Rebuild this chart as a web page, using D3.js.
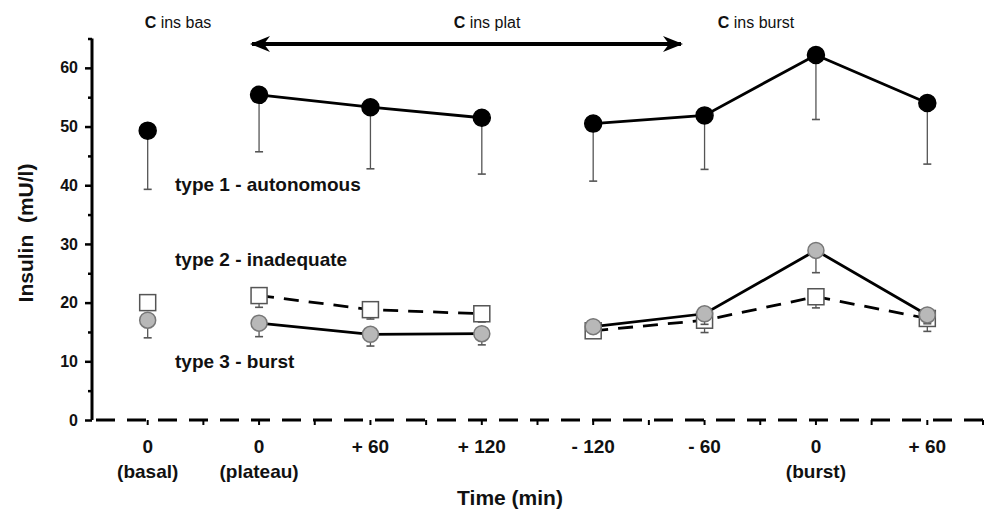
<!DOCTYPE html>
<html>
<head>
<meta charset="utf-8">
<script src="https://cdn.jsdelivr.net/npm/d3@7"></script>
<style>
  body { margin: 0; background: #fff; }
  text { font-family: "Liberation Sans", Arial, sans-serif; fill: #111; }
</style>
</head>
<body>
<svg id="svg" width="987" height="518"></svg>
<script>
// categories on the time axis (two label lines)
var timeLabels = ["0", "0", "+ 60", "+ 120", "- 120", "- 60", "0", "+ 60"];
var phaseLabels = ["(basal)", "(plateau)", "", "", "", "", "(burst)", ""];
// which points are joined by a line (basal stands alone)
var segment = [0, 1, 1, 1, 2, 2, 2, 2];

// type 1 - autonomous (filled black circles)
var type1 = [49.3, 55.4, 53.3, 51.5, 50.5, 51.9, 62.2, 54.0];
var type1Err = [10.0, 9.7, 10.5, 9.6, 9.8, 9.2, 11.0, 10.4];
// type 2 - inadequate (open squares, dashed)
var type2 = [20.0, 21.2, 18.8, 18.1, 15.2, 17.0, 21.0, 17.3];
var type2Err = [1.3, 2.0, 1.6, 1.4, 0.8, 2.1, 1.9, 2.2];
// type 3 - burst (grey circles)
var type3 = [17.0, 16.5, 14.6, 14.7, 15.9, 18.1, 28.9, 17.9];
var type3Err = [3.0, 2.3, 2.0, 1.9, 0.9, 1.8, 3.8, 1.5];

var yTicks = [0, 10, 20, 30, 40, 50, 60];

var svg = d3.select("svg");

var x = d3.scaleLinear().domain([-0.5, 7.5]).range([92, 983]);
var y = d3.scaleLinear().domain([0, 65]).range([420, 38.5]);

// ---- y axis ----
var yAxis = d3.axisLeft(y)
  .tickValues(d3.range(0, 66, 5))
  .tickSize(6)
  .tickFormat(function(d) { return yTicks.indexOf(d) >= 0 ? d : ""; });

var gy = svg.append("g").attr("transform", "translate(" + x(-0.5) + ",0)").call(yAxis);
gy.select(".domain").attr("stroke", "#000").attr("stroke-width", 3).attr("d", "M0," + y(65) + "V" + y(0));
gy.selectAll(".tick line").attr("stroke", "#000").attr("stroke-width", 2.5)
  .attr("x2", function(d) { return yTicks.indexOf(d) >= 0 ? -7 : -4; });
gy.selectAll(".tick text").attr("x", -14).attr("font-size", 16).attr("font-weight", "bold")
  .style("font-family", '"Liberation Sans", Arial, sans-serif').attr("fill", "#111");

// ---- x axis: dashed line at zero with small ticks ----
svg.append("line")
  .attr("x1", x(-0.5)).attr("x2", x(7.5))
  .attr("y1", y(0)).attr("y2", y(0))
  .attr("stroke", "#000").attr("stroke-width", 3)
  .attr("stroke-dasharray", "19,12").attr("stroke-dashoffset", -4);

svg.selectAll(".xtick")
  .data(d3.range(0, 16).map(function(i) { return i * 0.5; }))
  .enter().append("line")
  .attr("class", "xtick")
  .attr("x1", function(d) { return x(d); }).attr("x2", function(d) { return x(d); })
  .attr("y1", y(0)).attr("y2", y(0) + 5)
  .attr("stroke", "#000").attr("stroke-width", 2);

svg.selectAll(".tlab")
  .data(timeLabels)
  .enter().append("text")
  .attr("class", "tlab")
  .attr("x", function(d, i) { return x(i); })
  .attr("y", 453)
  .attr("text-anchor", "middle")
  .attr("font-size", 19).attr("font-weight", "bold")
  .text(function(d) { return d; });

svg.selectAll(".plab")
  .data(phaseLabels)
  .enter().append("text")
  .attr("class", "plab")
  .attr("x", function(d, i) { return x(i); })
  .attr("y", 478)
  .attr("text-anchor", "middle")
  .attr("font-size", 19).attr("font-weight", "bold")
  .text(function(d) { return d; });

svg.append("text")
  .attr("x", 510).attr("y", 505)
  .attr("text-anchor", "middle")
  .attr("font-size", 21).attr("font-weight", "bold")
  .text("Time (min)");

svg.append("text")
  .attr("transform", "translate(33,233) rotate(-90)")
  .attr("text-anchor", "middle")
  .attr("font-size", 21).attr("font-weight", "bold")
  .style("white-space", "pre")
  .text("Insulin  (mU/l)");

// ---- phase annotations on top ----
var phases = [
  { label: "ins bas", cx: 178 },
  { label: "ins plat", cx: 487 },
  { label: "ins burst", cx: 756 }
];
phases.forEach(function(p) {
  var t = svg.append("text")
    .attr("x", p.cx).attr("y", 28)
    .attr("text-anchor", "middle")
    .attr("font-size", 16);
  t.append("tspan").attr("font-weight", "bold").text("C ");
  t.append("tspan").text(p.label);
});

// double arrow for the plateau
var defs = svg.append("defs");
defs.append("marker")
  .attr("id", "head")
  .attr("viewBox", "0 0 20 16")
  .attr("refX", 18).attr("refY", 8)
  .attr("markerWidth", 20).attr("markerHeight", 16)
  .attr("markerUnits", "userSpaceOnUse")
  .attr("orient", "auto-start-reverse")
  .append("path")
  .attr("d", "M0,0 L20,8 L0,16 L6,8 Z")
  .attr("fill", "#000");

svg.append("line")
  .attr("x1", 252).attr("x2", 681)
  .attr("y1", 44).attr("y2", 44)
  .attr("stroke", "#000").attr("stroke-width", 4)
  .attr("marker-start", "url(#head)")
  .attr("marker-end", "url(#head)");

// ---- series labels ----
var seriesLabels = [
  { text: "type 1 - autonomous", y: 191 },
  { text: "type 2 - inadequate", y: 266 },
  { text: "type 3 - burst", y: 368 }
];
svg.selectAll(".slab")
  .data(seriesLabels)
  .enter().append("text")
  .attr("x", 175).attr("y", function(d) { return d.y; })
  .attr("font-size", 19).attr("font-weight", "bold")
  .text(function(d) { return d.text; });

// ---- data ----
function drawSeries(vals, errs, opt) {
  var pts = vals.map(function(v, i) { return { i: i, v: v, e: errs[i], seg: segment[i] }; });

  // error bars (downwards only)
  var eb = svg.append("g");
  pts.forEach(function(p) {
    eb.append("line")
      .attr("x1", x(p.i)).attr("x2", x(p.i))
      .attr("y1", y(p.v)).attr("y2", y(p.v - p.e))
      .attr("stroke", "#555").attr("stroke-width", 1.3);
    eb.append("line")
      .attr("x1", x(p.i) - 4).attr("x2", x(p.i) + 4)
      .attr("y1", y(p.v - p.e)).attr("y2", y(p.v - p.e))
      .attr("stroke", "#555").attr("stroke-width", 1.6);
  });

  var line = d3.line().x(function(d) { return x(d.i); }).y(function(d) { return y(d.v); });
  d3.groups(pts, function(d) { return d.seg; }).forEach(function(g) {
    if (g[1].length < 2) return;
    svg.append("path")
      .attr("d", line(g[1]))
      .attr("fill", "none")
      .attr("stroke", "#000").attr("stroke-width", 2.8)
      .attr("stroke-dasharray", opt.dash || null);
  });

  var m = svg.append("g");
  if (opt.shape === "square") {
    m.selectAll("rect").data(pts).enter().append("rect")
      .attr("x", function(d) { return x(d.i) - 8; })
      .attr("y", function(d) { return y(d.v) - 8; })
      .attr("width", 16).attr("height", 16)
      .attr("fill", "#fff").attr("stroke", "#555").attr("stroke-width", 1.5);
  } else {
    m.selectAll("circle").data(pts).enter().append("circle")
      .attr("cx", function(d) { return x(d.i); })
      .attr("cy", function(d) { return y(d.v); })
      .attr("r", opt.r)
      .attr("fill", opt.fill).attr("stroke", opt.stroke).attr("stroke-width", 1.5);
  }
}

drawSeries(type2, type2Err, { shape: "square", dash: "15,10" });
drawSeries(type3, type3Err, { r: 8, fill: "#b8b8b8", stroke: "#777" });
drawSeries(type1, type1Err, { r: 8.5, fill: "#000", stroke: "#000" });
</script>
</body>
</html>
